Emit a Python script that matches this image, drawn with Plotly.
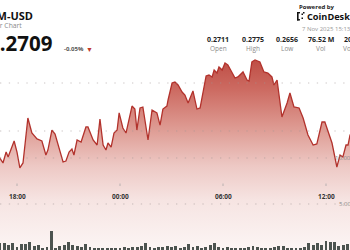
import plotly.graph_objects as go
import pandas as pd

# ---- price line (XLM-USD, 24h) ----
times = [
    "2025-11-06 16:50", "2025-11-06 17:00", "2025-11-06 17:11", "2025-11-06 17:22", "2025-11-06 17:29",
    "2025-11-06 17:43", "2025-11-06 17:50", "2025-11-06 18:00", "2025-11-06 18:10", "2025-11-06 18:21",
    "2025-11-06 18:38", "2025-11-06 18:52", "2025-11-06 19:10", "2025-11-06 19:27", "2025-11-06 19:41",
    "2025-11-06 19:48", "2025-11-06 20:02", "2025-11-06 20:13", "2025-11-06 20:41", "2025-11-06 20:51",
    "2025-11-06 21:02", "2025-11-06 21:12", "2025-11-06 21:19", "2025-11-06 21:30", "2025-11-06 21:44",
    "2025-11-06 22:01", "2025-11-06 22:08", "2025-11-06 22:26", "2025-11-06 22:40", "2025-11-06 22:50",
    "2025-11-06 23:01", "2025-11-06 23:11", "2025-11-06 23:18", "2025-11-06 23:29", "2025-11-06 23:39",
    "2025-11-06 23:50", "2025-11-06 23:57", "2025-11-07 00:10", "2025-11-07 00:21", "2025-11-07 00:42",
    "2025-11-07 00:52", "2025-11-07 00:59", "2025-11-07 01:10", "2025-11-07 01:20", "2025-11-07 01:38",
    "2025-11-07 01:52", "2025-11-07 02:09", "2025-11-07 02:20", "2025-11-07 02:30", "2025-11-07 02:44",
    "2025-11-07 02:48", "2025-11-07 03:02", "2025-11-07 03:12", "2025-11-07 03:23", "2025-11-07 03:37",
    "2025-11-07 03:47", "2025-11-07 03:58", "2025-11-07 04:15", "2025-11-07 04:29", "2025-11-07 04:40",
    "2025-11-07 05:01", "2025-11-07 05:11", "2025-11-07 05:22", "2025-11-07 05:29", "2025-11-07 05:39",
    "2025-11-07 05:46", "2025-11-07 05:57", "2025-11-07 06:07", "2025-11-07 06:17", "2025-11-07 06:42",
    "2025-11-07 06:52", "2025-11-07 07:10", "2025-11-07 07:24", "2025-11-07 07:31", "2025-11-07 07:41",
    "2025-11-07 07:52", "2025-11-07 08:09", "2025-11-07 08:23", "2025-11-07 08:37", "2025-11-07 08:51",
    "2025-11-07 08:58", "2025-11-07 09:09", "2025-11-07 09:26", "2025-11-07 09:44", "2025-11-07 09:54",
    "2025-11-07 10:08", "2025-11-07 10:26", "2025-11-07 10:40", "2025-11-07 10:57", "2025-11-07 11:15",
    "2025-11-07 11:28", "2025-11-07 11:46", "2025-11-07 11:56", "2025-11-07 12:21", "2025-11-07 12:38",
    "2025-11-07 12:49", "2025-11-07 12:59", "2025-11-07 13:10", "2025-11-07 13:17", "2025-11-07 13:24",
    "2025-11-07 13:45",
]
prices = [
    0.26802, 0.26719, 0.26667, 0.26781, 0.26729,
    0.26854, 0.26896, 0.26781, 0.26615, 0.26667,
    0.27135, 0.26979, 0.26917, 0.26896, 0.26750,
    0.26802, 0.27010, 0.26969, 0.26677, 0.26687,
    0.26781, 0.26812, 0.26750, 0.26906, 0.26885,
    0.27042, 0.27042, 0.26906, 0.26854, 0.27125,
    0.26854, 0.26802, 0.26875, 0.26833, 0.26979,
    0.27010, 0.27188, 0.27031, 0.26979, 0.27260,
    0.27229, 0.27010, 0.27240, 0.27250, 0.26906,
    0.27219, 0.27188, 0.27062, 0.27229, 0.27260,
    0.27323, 0.27500, 0.27510, 0.27479, 0.27406,
    0.27375, 0.27292, 0.27417, 0.27229, 0.27240,
    0.27573, 0.27583, 0.27563, 0.27635, 0.27604,
    0.27667, 0.27635, 0.27708, 0.27688, 0.27552,
    0.27563, 0.27615, 0.27531, 0.27521, 0.27719,
    0.27740, 0.27719, 0.27615, 0.27604, 0.27563,
    0.27479, 0.27531, 0.27146, 0.27292, 0.27396,
    0.27250, 0.27240, 0.27135, 0.26958, 0.26854,
    0.26865, 0.27094, 0.27094, 0.26875, 0.26625,
    0.26750, 0.26729, 0.26854, 0.26854, 0.26958,
    0.27031,
]

# ---- volume bars (15 min, millions) ----
vol_start = "2025-11-06 17:00"
volumes_m = [
    0.76, 0.76, 0.54, 0.76, 0.33, 0.65, 0.65, 0.87, 0.43, 0.54,
    0.22, 0.33, 2.07, 0.22, 0.43, 0.54, 0.87, 0.54, 0.43, 0.33,
    0.65, 0.33, 0.22, 0.11, 0.22, 0.22, 0.22, 0.22,
    0.22, 0.33, 0.22, 0.33, 0.33, 0.43, 0.76, 0.33, 0.22, 0.33,
    0.33, 0.43, 0.33, 0.43, 0.22, 0.33, 0.65, 0.33, 0.43, 0.22,
    0.33, 0.54, 0.76, 0.33, 0.22, 0.33, 0.22,
    0.11, 0.22, 0.22, 0.33, 0.43, 0.33, 0.22, 0.22, 0.22, 0.33,
    0.43, 0.43, 0.22, 0.11, 0.22, 0.22, 0.33, 0.76, 0.54, 0.76,
    0.54, 0.98, 0.87, 0.87, 0.43, 0.54, 0.65, 0.54,
]
vol_times = pd.date_range(vol_start, periods=len(volumes_m), freq="15min")

# ---- header / stats texts ----
symbol = "XLM-USD"
subtitle = "24 Hour Chart"
last_price = "0.2709"
change = "-0.05%"
stat_values = ["0.2711", "0.2775", "0.2656", "76.52 M", "20.66 M"]
stat_labels = ["Open", "High", "Low", "Vol", "Vol (USD)"]
stat_centers_px = [218, 253, 287, 321, 357]
time_ticks = ["2025-11-06 18:00", "2025-11-07 00:00", "2025-11-07 06:00", "2025-11-07 12:00"]
time_ticktext = ["18:00", "00:00", "06:00", "12:00"]
price_grid = [0.2750, 0.2700]
vol_grid = [5e6, 10e6]
vol_grid_text = ["5.00M", "10.00M"]

W, H = 350, 250
FONT = "Open Sans"

def px(x):
    return x / W

def py(y):
    return 1 - y / H

fig = go.Figure()
fig.add_trace(go.Scatter(
    x=times, y=prices, mode="lines",
    line=dict(color="#b2322c", width=1.3),
    fill="tozeroy",
    fillgradient=dict(
        type="vertical",
        start=0.2576, stop=0.2776,
        colorscale=[
            [0.0, "#fcf5f4"],
            [0.26, "#f6e4e2"],
            [0.44, "#edc8c4"],
            [0.62, "#df9e96"],
            [0.83, "#cd6c63"],
            [1.0, "#be4c43"],
        ],
    ),
    hoverinfo="skip", showlegend=False, yaxis="y",
))
fig.add_trace(go.Bar(
    x=vol_times, y=[v * 1e6 for v in volumes_m],
    width=600000, marker=dict(color="#4c534f", line=dict(width=0)),
    yaxis="y2", showlegend=False, hoverinfo="skip",
))

shapes = []
dot = dict(color="rgba(160,150,150,0.55)", width=1, dash="1.3px,7.5px")
for p in price_grid:
    shapes.append(dict(type="line", xref="paper", x0=0, x1=1, yref="y", y0=p, y1=p,
                       line=dot, layer="above"))
for v in vol_grid:
    shapes.append(dict(type="line", xref="paper", x0=0, x1=1, yref="y2", y0=v, y1=v,
                       line=dot, layer="above"))
for t in time_ticks:
    shapes.append(dict(type="line", xref="x", x0=t, x1=t, yref="paper",
                       y0=py(186), y1=py(183.5), line=dict(color="#b8b0b0", width=1)))

# CoinDesk icon
icon = [(297, 12, 298.6, 20.5), (297, 12, 300, 13.4), (297, 19.1, 300, 20.5),
        (301.5, 13.5, 303, 15), (301.5, 17.5, 303, 19), (303, 12, 304.5, 13.5)]
for x0, y0, x1, y1 in icon:
    shapes.append(dict(type="rect", xref="paper", yref="paper", x0=px(x0), x1=px(x1),
                       y0=py(y1), y1=py(y0), fillcolor="#111", line=dict(width=0)))

ann = []
def text(t, x, y, size, color, anchor="left", bold=False, xref="paper"):
    ann.append(dict(text=f"<b>{t}</b>" if bold else t, x=px(x) if xref == "paper" else x,
                    xref=xref, y=py(y), yref="paper", xanchor=anchor, yanchor="middle",
                    showarrow=False, font=dict(size=size, color=color, family=FONT)))

text(symbol, 35, 15.5, 11, "#111", "right", True)
text(subtitle, 23.5, 26, 6.8, "#8a8a8a", "right")
text(last_price, 53.5, 43, 20.5, "#111", "right", True)
text(change, 62, 49.5, 6, "#555", "left", True)
text("▼", 89, 49.5, 7, "#c0392b", "center")
for v, l, c in zip(stat_values, stat_labels, stat_centers_px):
    text(v, c, 39, 7, "#222", "center", True)
    text(l, c, 49, 6.5, "#8a8a8a", "center")
text("Powered by", 297, 6.5, 6, "#222", "left", True)
text("CoinDesk Indices", 305, 16.5, 9.2, "#111", "left", True)
text("7 Nov 2025 15:13", 300, 29, 6, "#9a9a9a", "left")
for t, lab in zip(time_ticks, time_ticktext):
    text(lab, t, 196, 6.5, "#333", "center", True, xref="x")
for v, lab in zip(vol_grid, vol_grid_text):
    ann.append(dict(text=lab, x=px(358), xref="paper", y=v, yref="y2", xanchor="right",
                    yanchor="middle", showarrow=False,
                    font=dict(size=6, color="#8a8a8a", family=FONT)))

fig.update_layout(
    width=W, height=H, margin=dict(l=0, r=0, t=0, b=0, pad=0),
    paper_bgcolor="white", plot_bgcolor="white",
    xaxis=dict(range=["2025-11-06 17:00:36", "2025-11-07 13:23:54"], visible=False,
               fixedrange=True),
    yaxis=dict(range=[0.257604, 0.283646], domain=[0, 1], visible=False),
    yaxis2=dict(range=[0, 27.17e6], overlaying="y", visible=False),
    bargap=0, shapes=shapes, annotations=ann, showlegend=False,
)

fig.write_html("out.html", config={"displayModeBar": False})
